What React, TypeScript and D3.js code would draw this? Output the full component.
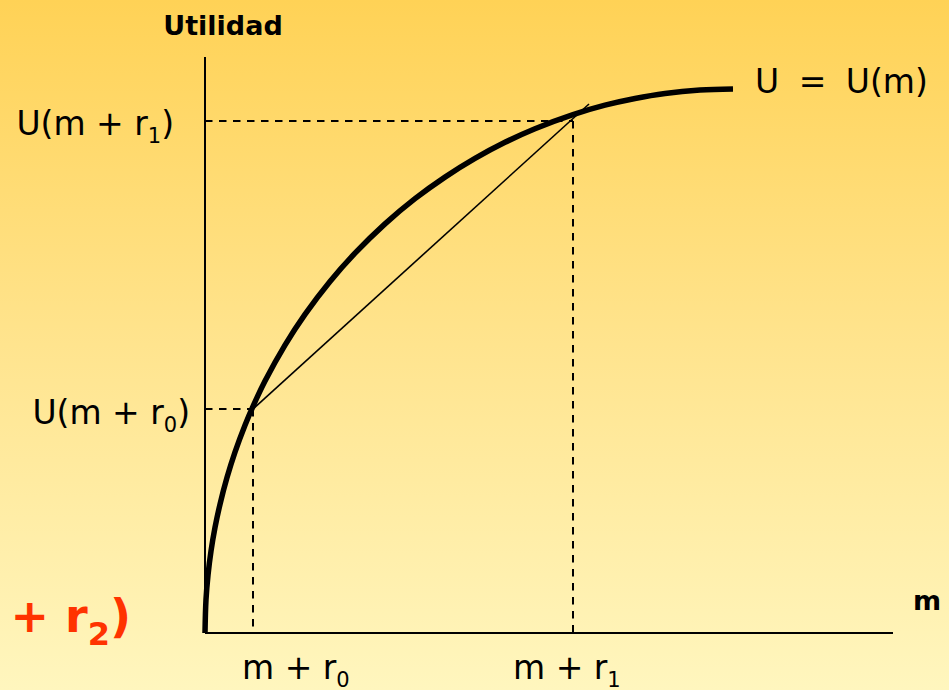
import React from "react";
import * as d3 from "d3";

// Utility curve U = U(m) (m, U)
const curveM = [0, 1, 3, 6, 10, 15, 22, 30, 40, 48, 60, 80, 100, 125, 150, 180, 210, 240, 270, 300, 330, 368, 400, 430, 460, 495, 528];
const curveU = [0, 33.5, 57.9, 81.8, 105.4, 128.7, 155.4, 180.8, 207.7, 226.6, 251.9, 287.9, 318.6, 351.5, 379.8, 409.1, 434.3, 455.9, 474.6, 490.7, 504.3, 518.4, 527.8, 534.5, 539.5, 542.9, 544];

// reference points
const refM = [48, 368]; // m + r0, m + r1
const refU = [224, 512]; // U(m + r0), U(m + r1)
const chordM = [48, 384];
const chordU = [224, 529];

const xMax = 688;
const yMax = 576;

const W = 949;
const H = 690;

export default function App() {
  const x = d3.scaleLinear().domain([0, xMax]).range([205, 893]);
  const y = d3.scaleLinear().domain([0, yMax]).range([633, 57]);

  const pts: [number, number][] = curveM.map((m, i) => [m, curveU[i]]);
  const line = d3
    .line<[number, number]>()
    .x((d) => x(d[0]))
    .y((d) => y(d[1]))
    .curve(d3.curveCatmullRom.alpha(0.5));

  const dash = "7.5,6.5";
  const reg = "'DejaVu Sans', Verdana, sans-serif";

  return (
    <svg
      width={W}
      height={H}
      style={{ position: "absolute", left: 0, top: 0, display: "block" }}
    >
      <defs>
        <linearGradient id="bg" x1="0" y1="0" x2="0" y2="1">
          <stop offset="0%" stopColor="#FFD256" />
          <stop offset="50%" stopColor="#FFE48E" />
          <stop offset="100%" stopColor="#FFF6BE" />
        </linearGradient>
      </defs>
      <rect x={0} y={0} width={W} height={H} fill="url(#bg)" />

      {/* dashed guide lines */}
      {refM.map((m, i) => (
        <g key={i}>
          <line
            x1={x(0)}
            x2={x(m)}
            y1={y(refU[i])}
            y2={y(refU[i])}
            stroke="#000"
            strokeWidth={2}
            strokeDasharray={dash}
          />
          <line
            x1={x(m)}
            x2={x(m)}
            y1={y(refU[i])}
            y2={y(0)}
            stroke="#000"
            strokeWidth={2}
            strokeDasharray={dash}
          />
        </g>
      ))}

      {/* chord */}
      <line
        x1={x(chordM[0])}
        y1={y(chordU[0])}
        x2={x(chordM[1])}
        y2={y(chordU[1])}
        stroke="#000"
        strokeWidth={1.6}
      />

      {/* axes */}
      <line x1={x(0)} x2={x(0)} y1={y(0)} y2={y(yMax)} stroke="#000" strokeWidth={2} />
      <line x1={x(0)} x2={x(xMax)} y1={y(0)} y2={y(0)} stroke="#000" strokeWidth={2} />

      {/* utility curve */}
      <path d={line(pts) || ""} fill="none" stroke="#000" strokeWidth={5.5} />

      {/* texts */}
      <text
        x={223}
        y={35}
        textAnchor="middle"
        fontFamily={reg}
        fontWeight="bold"
        fontSize={27}
        fill="#000"
      >
        Utilidad
      </text>
      <text x={913} y={610} fontFamily={reg} fontWeight="bold" fontSize={27} fill="#000">
        m
      </text>

      <text x={174} y={135} textAnchor="end" fontFamily={reg} fontSize={33} fill="#000">
        U(m + r<tspan fontSize={21} dy={8}>1</tspan>
        <tspan dy={-8}>)</tspan>
      </text>
      <text x={190} y={424} textAnchor="end" fontFamily={reg} fontSize={33} fill="#000">
        U(m + r<tspan fontSize={21} dy={8}>0</tspan>
        <tspan dy={-8}>)</tspan>
      </text>

      <text x={242} y={679} fontFamily={reg} fontSize={33} fill="#000">
        m + r<tspan fontSize={21} dy={8}>0</tspan>
      </text>
      <text x={513} y={679} fontFamily={reg} fontSize={33} fill="#000">
        m + r<tspan fontSize={21} dy={8}>1</tspan>
      </text>

      <text x={755} y={93} fontFamily={reg} fontSize={33} wordSpacing={9} fill="#000">
        U = U(m)
      </text>

      <text
        x={131}
        y={632}
        textAnchor="end"
        fontFamily={reg}
        fontWeight="bold"
        fontSize={46}
        fill="#FF3300"
      >
        + r<tspan fontSize={32} dy={13}>2</tspan>
        <tspan dy={-13}>)</tspan>
      </text>
    </svg>
  );
}
